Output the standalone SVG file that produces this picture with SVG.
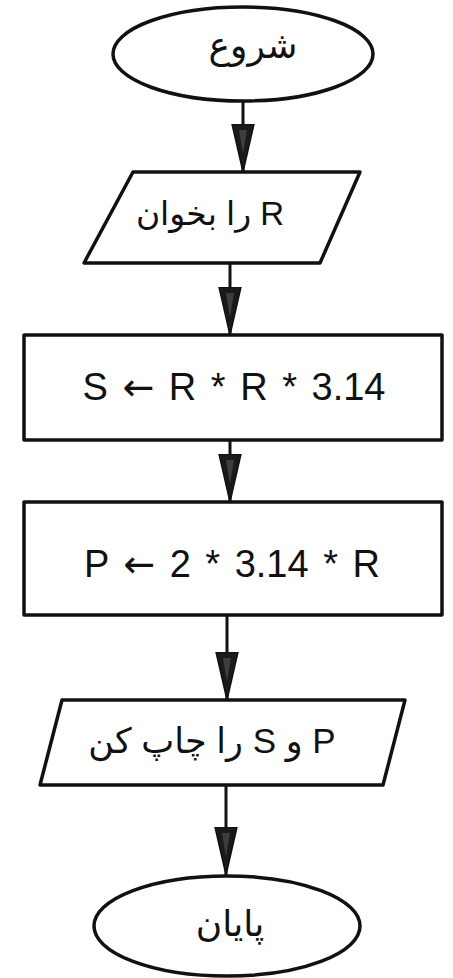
<svg xmlns="http://www.w3.org/2000/svg" width="453" height="978" viewBox="0 0 453 978">
  <defs>
    <marker id="head" markerUnits="userSpaceOnUse" viewBox="0 0 48 24" refX="48" refY="12" markerWidth="48" markerHeight="24" orient="auto">
      <path d="M0,1 L48,12 L0,23 Z" fill="#1a1a1a" stroke="#111" stroke-width="1.5" stroke-linejoin="round"/>
      <path d="M6,8 L30,12 L6,16 Z" fill="#555" opacity="0.6"/>
    </marker>
  </defs>
  <style>
    .shape { fill: #fff; stroke: #111; stroke-width: 3.5; stroke-linejoin: round; }
    .edge { fill: none; stroke: #111; stroke-width: 3; marker-end: url(#head); }
    .label { font-family: "Liberation Sans", "DejaVu Sans", sans-serif; fill: #111; text-anchor: middle; }
    .rtl { direction: rtl; unicode-bidi: embed; }
    .formula { word-spacing: 4px; }
    .arrow { font-family: "DejaVu Sans", sans-serif; }
  </style>
  <rect width="453" height="978" fill="#fff"/>

  <g id="connectors">
    <line class="edge" x1="243" y1="101" x2="243" y2="172"/>
    <line class="edge" x1="230" y1="263" x2="230" y2="335"/>
    <line class="edge" x1="230" y1="440" x2="230" y2="502"/>
    <line class="edge" x1="227" y1="615" x2="227" y2="700"/>
    <line class="edge" x1="226" y1="785" x2="226" y2="875"/>
  </g>

  <g id="start">
    <ellipse class="shape" cx="243" cy="54" rx="130" ry="47"/>
    <text class="label rtl" x="253" y="58" font-size="36">شروع</text>
  </g>

  <g id="read-r">
    <polygon class="shape" points="133,172 360,172 320,263 84,263"/>
    <text class="label rtl" x="210" y="225" font-size="33">R را بخوان</text>
  </g>

  <g id="area">
    <rect class="shape" x="24" y="335" width="418" height="105"/>
    <text class="label formula" x="234" y="400" font-size="38">S <tspan class="arrow">←</tspan> R * R * 3.14</text>
  </g>

  <g id="perimeter">
    <rect class="shape" x="24" y="502" width="418" height="113"/>
    <text class="label formula" x="232" y="577" font-size="38">P <tspan class="arrow">←</tspan> 2 * 3.14 * R</text>
  </g>

  <g id="print">
    <polygon class="shape" points="62,700 405,700 383,785 40,785"/>
    <text class="label rtl" x="212" y="753" font-size="35">P و S را چاپ کن</text>
  </g>

  <g id="end">
    <ellipse class="shape" cx="227" cy="926" rx="133" ry="50"/>
    <text class="label rtl" x="230" y="936" font-size="36">پایان</text>
  </g>
</svg>
